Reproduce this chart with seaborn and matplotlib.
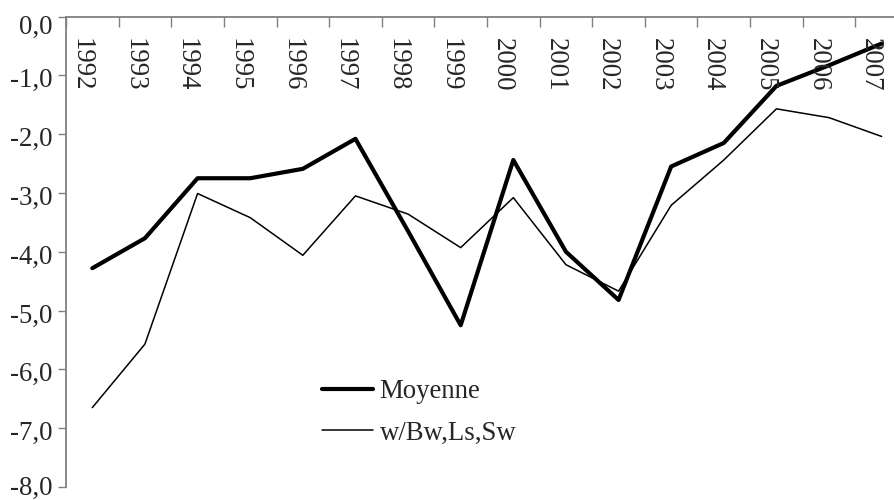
import numpy as np
import pandas as pd
import matplotlib
matplotlib.use("Agg")
import matplotlib.pyplot as plt
import matplotlib.transforms as mtransforms
import seaborn as sns

years = ["1992", "1993", "1994", "1995", "1996", "1997", "1998", "1999",
         "2000", "2001", "2002", "2003", "2004", "2005", "2006", "2007"]
moyenne = [-4.28, -3.77, -2.75, -2.75, -2.59, -2.08, -3.65, -5.25,
           -2.44, -4.00, -4.82, -2.55, -2.15, -1.18, -0.83, -0.46]
wbw = [-6.65, -5.57, -3.01, -3.42, -4.06, -3.05, -3.36, -3.93,
       -3.08, -4.22, -4.67, -3.21, -2.44, -1.57, -1.72, -2.04]
series_names = ["Moyenne", "w/Bw,Ls,Sw"]
y_ticks = [0, -1, -2, -3, -4, -5, -6, -7, -8]
y_ticklabels = ["0,0", "-1,0", "-2,0", "-3,0", "-4,0", "-5,0", "-6,0", "-7,0", "-8,0"]

sns.set_style("white")
plt.rcParams["font.family"] = ["Liberation Serif", "DejaVu Serif"]
FS = 19.3

fig = plt.figure(figsize=(8.95, 5.0), dpi=100)
ax = fig.add_axes([66 / 895, 13 / 500, 842 / 895, 470.5 / 500])

idx = np.arange(len(years))
df = pd.DataFrame({"x": idx, "Moyenne": moyenne, "w": wbw})
sns.lineplot(data=df, x="x", y="Moyenne", ax=ax, color="black", linewidth=3.0,
             label=series_names[0])
sns.lineplot(data=df, x="x", y="w", ax=ax, color="black", linewidth=1.1,
             label=series_names[1])

ax.set_xlim(-0.5, len(years) - 0.5)
ax.set_ylim(-8, 0)
ax.set_xlabel("")
ax.set_ylabel("")

gray = "#808080"
for s in ["bottom", "right"]:
    ax.spines[s].set_visible(False)
for s in ["top", "left"]:
    ax.spines[s].set_visible(True)
    ax.spines[s].set_color(gray)
    ax.spines[s].set_linewidth(1.3)

ax.set_yticks(y_ticks)
ax.set_yticklabels(y_ticklabels, fontsize=FS)
ax.tick_params(axis="y", direction="out", length=6, width=1, color=gray,
               pad=3.5, left=True)
labels = ax.get_yticklabels()
for i, lab in enumerate(labels):
    if i == 0:
        dy = -8
    elif i == len(labels) - 1:
        dy = 2
    else:
        dy = -2.5
    lab.set_transform(lab.get_transform() +
                      mtransforms.ScaledTranslation(0, dy / 100, fig.dpi_scale_trans))

# category boundary ticks on top axis, pointing down
ax.set_xticks(np.arange(-0.5, len(years)), minor=False)
ax.set_xticklabels([])
ax.tick_params(axis="x", which="major", top=True, bottom=False, direction="in",
               length=7, width=1, color=gray, labeltop=False, labelbottom=False)

off = mtransforms.ScaledTranslation(-11 / 100, -21 / 100, fig.dpi_scale_trans)
trans = mtransforms.blended_transform_factory(ax.transData, ax.transAxes) + off
for i, y in enumerate(years):
    ax.text(i, 1.0, y, transform=trans, rotation=270, ha="center", va="top",
            fontsize=FS, clip_on=False)

leg = ax.legend(loc="upper left", bbox_to_anchor=(322 / 895, 1 - 379 / 500),
                bbox_transform=fig.transFigure, frameon=False, fontsize=FS,
                borderpad=0, borderaxespad=0, handlelength=1.9,
                handletextpad=0.25, labelspacing=0.62)

fig.savefig("out.png", dpi=100)
